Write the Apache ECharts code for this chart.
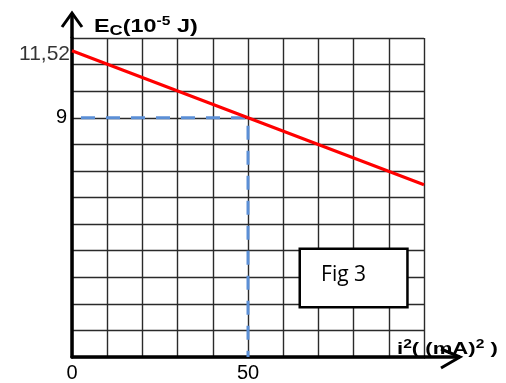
<!DOCTYPE html>
<html>
<head>
<meta charset="utf-8">
<script src="https://cdn.jsdelivr.net/npm/echarts@6/dist/echarts.min.js"></script>
<style>
html,body{margin:0;padding:0;background:#fff;}
#chart{width:506px;height:383px;}
</style>
</head>
<body>
<div id="chart"></div>
<script>
// ---- data ----
const xMin = 0, xMax = 100, xStep = 10;
const yMin = 0, yMax = 12, yStep = 1;
const xTickLabels = { 0: '0', 50: '50' };
const yTickLabels = { 9: '9' };
const lineX = [0, 50, 100];
const lineY = [11.52, 9, 6.48];
const guideX = [0, 50, 50];
const guideY = [9, 9, 0];
const interceptX = [0];
const interceptY = [11.52];
const interceptText = ['11,52'];
const figBoxX = [64.7, 95.3];
const figBoxY = [4.07, 1.87];
const figText = 'Fig 3';

(function () {
const chart = echarts.init(document.getElementById('chart'), null, { renderer: 'canvas' });
const FONT = 'Liberation Sans, Arial, sans-serif';

const option = {
  animation: false,
  backgroundColor: '#fff',
  grid: { left: 72, right: 82, top: 38, bottom: 23 },
  xAxis: {
    type: 'value', min: xMin, max: xMax, interval: xStep,
    axisLine: { show: true, onZero: false, lineStyle: { color: '#000', width: 3.5 } },
    axisTick: { show: false },
    splitLine: { show: true, lineStyle: { color: '#2a2a2a', width: 1.4 } },
    axisLabel: {
      margin: 6, color: '#000', fontSize: 20, fontFamily: FONT,
      formatter: v => xTickLabels[v] || ''
    }
  },
  yAxis: {
    type: 'value', min: yMin, max: yMax, interval: yStep,
    axisLine: { show: true, onZero: false, lineStyle: { color: '#000', width: 3.5 } },
    axisTick: { show: false },
    splitLine: { show: true, lineStyle: { color: '#2a2a2a', width: 1.4 } },
    axisLabel: {
      margin: 5, color: '#000', fontSize: 20, fontFamily: FONT,
      formatter: v => yTickLabels[v] || ''
    }
  },
  series: [
    {
      type: 'line',
      data: lineX.map((x, i) => [x, lineY[i]]),
      symbol: 'none',
      lineStyle: { color: '#ff0000', width: 3 },
      z: 4
    },
    {
      type: 'line',
      data: guideX.map((x, i) => [x, guideY[i]]),
      symbol: 'none',
      lineStyle: { color: '#5b8fd6', width: 3, type: [14, 11], dashOffset: 16 },
      z: 3
    },
    {
      type: 'scatter',
      data: interceptX.map((x, i) => [x, interceptY[i]]),
      symbolSize: 0,
      itemStyle: { color: 'rgba(0,0,0,0)' },
      label: {
        show: true, position: 'left', distance: 2, offset: [0, 3],
        color: '#000', fontSize: 21, fontFamily: FONT,
        formatter: p => interceptText[p.dataIndex]
      },
      z: 5
    }
  ]
};
chart.setOption(option);

const o = chart.convertToPixel({ gridIndex: 0 }, [xMin, yMin]);
const tr = chart.convertToPixel({ gridIndex: 0 }, [xMax, yMax]);
const b0 = chart.convertToPixel({ gridIndex: 0 }, [figBoxX[0], figBoxY[0]]);
const b1 = chart.convertToPixel({ gridIndex: 0 }, [figBoxX[1], figBoxY[1]]);
const ox = o[0], oy = o[1], gRight = tr[0], gTop = tr[1];

chart.setOption({
  graphic: [
    { type: 'line', shape: { x1: ox, y1: gTop, x2: ox, y2: gTop - 25 }, style: { stroke: '#000', lineWidth: 3.5 }, z: 10 },
    { type: 'polyline', shape: { points: [[ox - 10, gTop - 11], [ox, gTop - 25], [ox + 10, gTop - 11]] }, style: { stroke: '#000', lineWidth: 3, fill: null }, z: 10 },
    { type: 'line', shape: { x1: gRight, y1: oy, x2: gRight + 36, y2: oy }, style: { stroke: '#000', lineWidth: 3.5 }, z: 10 },
    { type: 'polyline', shape: { points: [[gRight + 17, oy - 8], [gRight + 36, oy], [gRight + 17, oy + 11]] }, style: { stroke: '#000', lineWidth: 3, fill: null }, z: 10 },
    {
      type: 'text', x: ox + 22, y: gTop, scaleX: 1.3, z: 10,
      style: {
        text: '{m|E}{s|C}{m|(10}{p|-5}{m| J)}',
        verticalAlign: 'bottom', align: 'left',
        rich: {
          m: { fontSize: 18, fontWeight: 'bold', fontFamily: FONT, fill: '#000', lineHeight: 22 },
          s: { fontSize: 14, fontWeight: 'bold', fontFamily: FONT, fill: '#000', lineHeight: 18, verticalAlign: 'bottom' },
          p: { fontSize: 12, fontWeight: 'bold', fontFamily: FONT, fill: '#000', lineHeight: 18, verticalAlign: 'top' }
        }
      }
    },
    {
      type: 'text', x: gRight - 27, y: oy + 2, scaleX: 1.3, z: 10,
      style: {
        text: '{m|i}{p|2}{m|( (mA)}{p|2}{m| )}',
        verticalAlign: 'bottom', align: 'left',
        rich: {
          m: { fontSize: 17, fontWeight: 'bold', fontFamily: FONT, fill: '#000', lineHeight: 20 },
          p: { fontSize: 12, fontWeight: 'bold', fontFamily: FONT, fill: '#000', lineHeight: 16, verticalAlign: 'top' }
        }
      }
    },
    {
      type: 'rect', z: 10,
      shape: { x: b0[0], y: b0[1], width: b1[0] - b0[0], height: b1[1] - b0[1] },
      style: { fill: '#fff', stroke: '#000', lineWidth: 2.5 }
    },
    {
      type: 'text', z: 11,
      x: (b0[0] + b1[0]) / 2 - 10, y: (b0[1] + b1[1]) / 2 - 3,
      style: { text: figText, fontSize: 21, fontFamily: 'Open Sans, Liberation Sans, sans-serif', fill: '#000', align: 'center', verticalAlign: 'middle' }
    }
  ]
});
})();
</script>
</body>
</html>
